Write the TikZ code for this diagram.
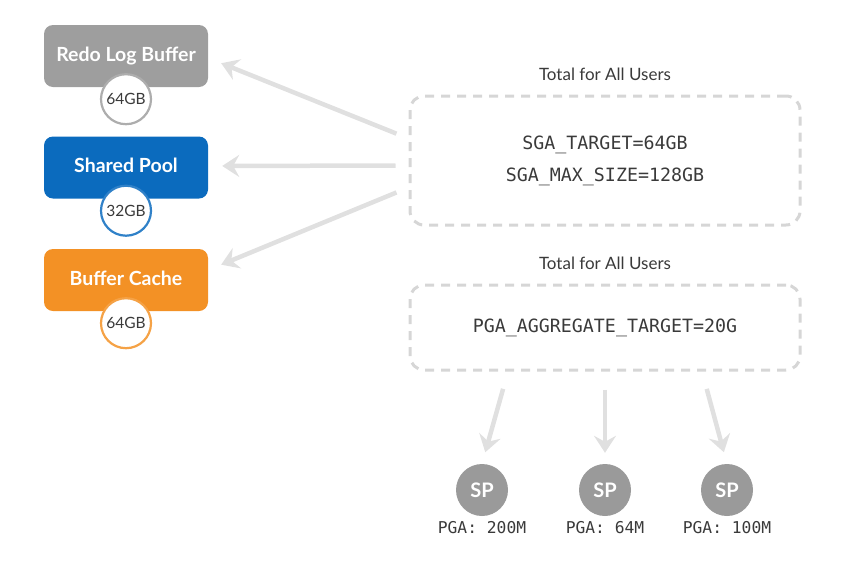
\documentclass[tikz,border=0pt]{standalone}
\usepackage{fontspec}
\setmainfont{Lato}
\setmonofont{DejaVu Sans Mono}
\usepackage{tikz}
\usetikzlibrary{shapes, positioning, arrows, arrows.meta, calc}
\definecolor{redoGray}{HTML}{9E9E9E}
\definecolor{poolBlue}{HTML}{0B6BBE}
\definecolor{cacheOrange}{HTML}{F39125}
\definecolor{dashGray}{HTML}{D6D6D6}
\definecolor{arrowGray}{HTML}{E0E0E0}
\definecolor{spGray}{HTML}{9A9A9A}
\definecolor{textGray}{HTML}{3A3A3A}
\newcommand{\boxCorner}{9pt}
\tikzstyle{memBox}=[rounded corners=\boxCorner, minimum width=164pt, minimum height=62pt, text=white, font=\fontsize{19.5}{22}\selectfont\bfseries]
\tikzstyle{sizeBall}=[circle, draw, fill=white, line width=2.2pt, minimum size=50pt, inner sep=0pt, text=textGray, font=\fontsize{15.5}{18}\selectfont]
\tikzstyle{paramBox}=[draw=dashGray, line width=3pt, dash pattern=on 9pt off 7pt, rounded corners=14pt, minimum width=390pt, align=center, text=textGray, font=\ttfamily\fontsize{18.3}{32}\selectfont]
\tikzstyle{totalLabel}=[text=textGray, font=\fontsize{17}{18}\selectfont]
\tikzstyle{spBall}=[circle, fill=spGray, minimum size=52pt, inner sep=0pt, text=white, font=\fontsize{20}{22}\selectfont\bfseries]
\tikzstyle{pgaLabel}=[text=textGray, font=\ttfamily\fontsize{16.3}{17}\selectfont]
\tikzstyle{arrow}=[-{Stealth[length=17pt, width=22pt, inset=6pt]}, draw=arrowGray, line width=4.5pt]
\newcommand\nodeMem{}
\def\nodeMem(#1,#2)#3#4#5{%
  \node[memBox, fill=#3] (#1) at (126,#2) {\raisebox{4pt}{#4}};
  \node[sizeBall, draw=#3!85!white] (#1Size) at ([yshift=-12pt]#1.south) {#5};
}

\begin{document}
\begin{tikzpicture}[x=1pt, y=1pt]
  \useasboundingbox (0,0) rectangle (844,-579);
  % memory areas
  \nodeMem(redo,-56){redoGray}{Redo Log Buffer}{64GB}
  \nodeMem(pool,-167.5){poolBlue}{Shared Pool}{32GB}
  \nodeMem(cache,-280){cacheOrange}{Buffer Cache}{64GB}
  % targets
  \node[paramBox, minimum height=129pt] (sga) at (605,-160.5)
    {SGA\_TARGET=64GB\\SGA\_MAX\_SIZE=128GB};
  \node[totalLabel, above=10pt of sga] (sgaTotal) {Total for All Users};
  \node[paramBox, minimum height=85pt] (pga) at (605,-327.5)
    {PGA\_AGGREGATE\_TARGET=20G};
  \node[totalLabel, above=10pt of pga] (pgaTotal) {Total for All Users};
  % server processes
  \node[spBall] (spA) at (482,-490) {SP};
  \node[spBall] (spB) at (605,-490) {SP};
  \node[spBall] (spC) at (727,-490) {SP};
  \node[pgaLabel, below=2pt of spA] (pgaA) {PGA: 200M};
  \node[pgaLabel, below=2pt of spB] (pgaB) {PGA: 64M};
  \node[pgaLabel, below=2pt of spC] (pgaC) {PGA: 100M};
  % arrows
  \draw[arrow, shorten <=13pt, shorten >=14pt] ([yshift=22pt]sga.west) -- ([yshift=-2pt]redo.east);
  \draw[arrow, shorten <=13pt, shorten >=14pt] ([yshift=-5pt]sga.west) -- ([yshift=1.5pt]pool.east);
  \draw[arrow, shorten <=13pt, shorten >=14pt] ([yshift=-27pt]sga.west) -- ([yshift=10pt]cache.east);
  \draw[arrow, shorten <=18pt, shorten >=12pt] ([xshift=-97pt]pga.south) -- (spA.north);
  \draw[arrow, shorten <=18pt, shorten >=11pt] (pga.south) -- (spB.north);
  \draw[arrow, shorten <=18pt, shorten >=12pt] ([xshift=97pt]pga.south) -- (spC.north);
\end{tikzpicture}
\end{document}
